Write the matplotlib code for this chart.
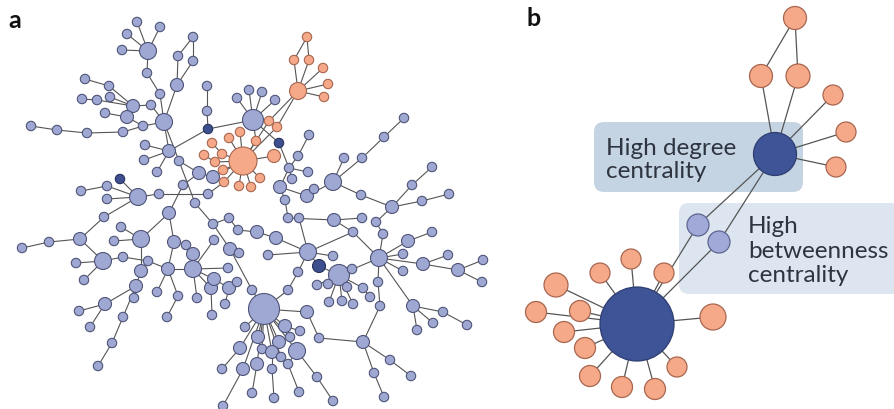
import matplotlib
matplotlib.use("Agg")
import matplotlib.pyplot as plt
from matplotlib.patches import Circle, FancyBboxPatch
from matplotlib.collections import LineCollection

plt.rcParams['font.family'] = ['Lato', 'DejaVu Sans']

# ---- panel a: node layout (x, y in pixels), size class, group ----
# b = blue, o = orange, d = dark blue
top_left = [
    ("t1", 148, 52, "l", "b"), ("t2", 137, 23, "s", "b"), ("t3", 160, 28, "s", "b"),
    ("t4", 127, 35, "s", "b"), ("t5", 122, 51, "s", "b"), ("t6", 147, 74, "s", "b"),
    ("t7", 160, 95, "s", "b"), ("t8", 164, 123, "l", "b"),
    ("q1", 193, 38, "s", "b"), ("q2", 178, 57, "s", "b"), ("q3", 193, 62, "s", "b"),
    ("q4", 177, 86, "m", "b"),
    ("c1", 85, 80, "s", "b"), ("c2", 109, 87, "s", "b"), ("c3", 82, 100, "s", "b"),
    ("c4", 97, 101, "s", "b"), ("c5", 110, 98, "s", "b"), ("c6", 133, 107, "m", "b"),
    ("c7", 151, 106, "s", "b"), ("c8", 105, 114, "s", "b"), ("c9", 127, 118, "m", "b"),
    ("c10", 143, 127, "s", "b"),
    ("w1", 31, 127, "s", "b"), ("w2", 57, 131, "s", "b"), ("w3", 87, 134, "s", "b"),
    ("w4", 123, 133, "s", "b"),
    ("v1", 207, 87, "s", "b"), ("v2", 207, 112, "s", "b"), ("v3", 208, 130, "s", "d"),
]
mid_left = [
    ("m1", 145, 146, "s", "b"), ("m2", 169, 152, "m", "b"), ("m3", 144, 161, "s", "b"),
    ("m4", 179, 162, "s", "b"), ("m5", 157, 173, "s", "b"), ("m6", 199, 174, "m", "b"),
    ("m7", 213, 178, "m", "b"), ("m8", 183, 186, "s", "b"), ("d2", 120, 180, "s", "d"),
    ("n1", 81, 192, "s", "b"), ("n2", 107, 187, "s", "b"), ("n3", 138, 198, "l", "b"),
    ("n4", 159, 195, "s", "b"), ("n5", 208, 195, "s", "b"), ("n6", 107, 200, "s", "b"),
]
low_left = [
    ("p1", 195, 204, "s", "b"), ("p2", 213, 225, "s", "b"), ("p3", 229, 219, "s", "b"),
    ("p4", 238, 231, "s", "b"), ("p5", 257, 233, "m", "b"), ("p6", 104, 218, "s", "b"),
    ("p7", 169, 214, "m", "b"), ("p8", 80, 240, "m", "b"), ("p9", 49, 243, "s", "b"),
    ("p10", 22, 249, "s", "b"), ("p11", 121, 228, "s", "b"), ("p12", 114, 242, "s", "b"),
    ("p13", 141, 240, "l", "b"), ("p14", 174, 243, "m", "b"), ("p15", 186, 246, "s", "b"),
    ("p16", 214, 241, "s", "b"), ("p17", 230, 250, "m", "b"), ("p18", 239, 254, "s", "b"),
    ("p19", 76, 264, "s", "b"), ("p20", 103, 262, "l", "b"), ("p21", 123, 258, "s", "b"),
    ("p22", 148, 262, "s", "b"), ("p23", 141, 272, "m", "b"), ("p24", 168, 270, "m", "b"),
    ("p25", 193, 255, "m", "b"), ("p26", 193, 270, "l", "b"), ("p27", 228, 269, "s", "b"),
    ("p28", 84, 281, "s", "b"), ("p29", 136, 287, "m", "b"), ("p30", 134, 299, "s", "b"),
    ("p31", 157, 293, "s", "b"), ("p32", 178, 297, "s", "b"), ("p33", 197, 299, "s", "b"),
    ("p34", 211, 289, "m", "b"), ("p35", 214, 280, "m", "b"), ("p36", 229, 289, "m", "b"),
    ("p37", 237, 283, "s", "b"), ("p38", 225, 305, "s", "b"), ("p39", 212, 316, "s", "b"),
    ("p40", 252, 291, "s", "b"), ("p41", 79, 312, "s", "b"), ("p42", 105, 305, "m", "b"),
    ("p43", 90, 328, "s", "b"), ("p44", 123, 318, "s", "b"), ("p45", 167, 318, "s", "b"),
    ("p46", 112, 344, "s", "b"), ("p47", 98, 367, "s", "b"),
]
right_mid = [
    ("h1", 253, 121, "xl", "b"), ("h2", 249, 91, "s", "b"), ("h3", 262, 93, "s", "b"),
    ("h4", 275, 101, "s", "b"), ("h5", 237, 99, "s", "b"), ("d3", 279, 144, "s", "d"),
    ("r1", 309, 136, "s", "b"), ("r2", 298, 157, "s", "b"), ("r3", 289, 169, "s", "b"),
    ("r4", 308, 173, "s", "b"), ("r5", 292, 180, "s", "b"), ("r6", 280, 188, "m", "b"),
    ("r7", 307, 197, "m", "b"), ("r8", 314, 190, "s", "b"), ("r9", 333, 183, "l", "b"),
    ("r10", 344, 159, "s", "b"), ("r11", 362, 159, "s", "b"), ("r12", 384, 138, "s", "b"),
    ("r13", 404, 119, "s", "b"), ("r14", 361, 196, "s", "b"), ("r15", 392, 208, "m", "b"),
    ("r16", 422, 202, "s", "b"), ("r17", 449, 195, "s", "b"), ("r18", 412, 186, "s", "b"),
    ("r19", 432, 168, "s", "b"), ("r20", 285, 201, "s", "b"),
]
center = [
    ("k1", 288, 219, "s", "b"), ("k2", 299, 219, "s", "b"), ("k3", 276, 239, "m", "b"),
    ("k4", 268, 256, "s", "b"), ("b3", 308, 253, "l", "b"), ("k5", 333, 257, "s", "b"),
    ("k6", 334, 221, "m", "b"), ("k7", 362, 219, "s", "b"), ("k8", 376, 223, "s", "b"),
    ("k9", 383, 235, "s", "b"), ("k10", 353, 233, "s", "b"), ("d4", 319, 267, "m", "d"),
    ("b4", 339, 276, "xl", "b"), ("k11", 352, 270, "s", "b"), ("k12", 298, 273, "s", "b"),
    ("k13", 288, 291, "s", "b"), ("k14", 317, 286, "s", "b"), ("k15", 328, 285, "s", "b"),
    ("k16", 347, 288, "s", "b"), ("k17", 363, 289, "s", "b"), ("k18", 370, 298, "s", "b"),
    ("k19", 329, 303, "s", "b"), ("k20", 342, 302, "s", "b"), ("k21", 353, 305, "s", "b"),
]
right = [
    ("g1", 379, 259, "l", "b"), ("g2", 408, 242, "m", "b"), ("g3", 432, 233, "s", "b"),
    ("g4", 403, 255, "s", "b"), ("g5", 423, 265, "m", "b"), ("g6", 448, 256, "s", "b"),
    ("g7", 458, 271, "m", "b"), ("g8", 483, 261, "s", "b"), ("g9", 482, 283, "s", "b"),
    ("g10", 403, 272, "s", "b"), ("g11", 378, 283, "s", "b"), ("g12", 380, 307, "s", "b"),
    ("g13", 363, 343, "m", "b"), ("g14", 390, 361, "s", "b"), ("g15", 411, 377, "s", "b"),
    ("g16", 374, 374, "s", "b"), ("g17", 384, 398, "s", "b"), ("g18", 319, 339, "s", "b"),
    ("g19", 413, 307, "m", "b"), ("g20", 443, 313, "s", "b"), ("g21", 467, 326, "s", "b"),
    ("g22", 433, 324, "s", "b"), ("g23", 417, 331, "s", "b"),
]
bottom = [
    ("B5", 264, 310, "hub", "b"), ("z1", 307, 313, "m", "b"), ("z2", 245, 328, "s", "b"),
    ("z3", 258, 338, "m", "b"), ("z4", 285, 327, "m", "b"), ("z5", 300, 332, "s", "b"),
    ("z6", 290, 338, "s", "b"), ("z7", 279, 343, "m", "b"), ("z8", 262, 350, "s", "b"),
    ("z9", 272, 353, "m", "b"), ("z10", 281, 358, "s", "b"), ("z11", 297, 352, "l", "b"),
    ("z12", 240, 349, "m", "b"), ("z13", 257, 365, "m", "b"), ("z14", 272, 370, "s", "b"),
    ("z15", 288, 365, "s", "b"), ("z16", 243, 370, "m", "b"), ("z17", 222, 370, "s", "b"),
    ("z18", 252, 394, "s", "b"), ("z19", 274, 399, "s", "b"), ("z20", 299, 393, "s", "b"),
    ("z21", 317, 378, "s", "b"), ("z22", 333, 402, "s", "b"), ("z23", 223, 407, "s", "b"),
]
orange = [
    ("O2", 243, 162, "big", "o"), ("o1", 269, 122, "s", "o"), ("o2", 277, 128, "s", "o"),
    ("o3", 240, 133, "s", "o"), ("o4", 229, 139, "s", "o"), ("o5", 256, 142, "s", "o"),
    ("o6", 212, 144, "s", "o"), ("o7", 204, 156, "s", "o"), ("o8", 222, 155, "s", "o"),
    ("o9", 215, 163, "s", "o"), ("o10", 274, 157, "m", "o"), ("o11", 223, 171, "s", "o"),
    ("o12", 260, 179, "s", "o"), ("o13", 224, 183, "s", "o"), ("o14", 239, 187, "s", "o"),
    ("o15", 251, 188, "s", "o"), ("O1", 298, 92, "l", "o"), ("o16", 323, 69, "s", "o"),
    ("o17", 328, 85, "s", "o"), ("o18", 324, 98, "s", "o"), ("o19", 294, 61, "s", "o"),
    ("o20", 309, 61, "s", "o"), ("o21", 307, 38, "s", "o"),
]

edges_a = """
t1-t2 t1-t3 t1-t4 t1-t5 t1-t6 t6-t7 t7-t8 q1-q2 q1-q3 q2-q4 q3-q4 q4-t8
c1-c2 c2-c6 c3-c4 c4-c6 c5-c6 c6-c7 c6-c9 c8-c9 c9-c10 c10-t8 c7-t8
w1-w2 w2-w3 w3-w4 w4-c10 v1-v2 v2-v3 v3-h1 v3-m2
t8-m2 t8-m4 m1-m2 m3-m2 m5-m2 m4-m6 m6-m7 m6-m8 m4-p1 d2-n3 n1-n2 n2-n3
n6-n3 n3-n4 n4-n5 n5-o13 m7-O2 n3-p6 m8-p7
p6-p8 p8-p9 p9-p10 p8-p20 p20-p19 p20-p28 p20-p21 p21-p22 p22-p24 p7-p13
p13-p11 p13-p12 p13-p23 p14-p24 p14-p7 p15-p25 p25-p26 p23-p29 p29-p30
p29-p42 p42-p41 p42-p43 p29-p44 p44-p46 p46-p47 p24-p31 p24-p32 p32-p45
p24-p26 p26-p33 p26-p34 p26-p35 p26-p16 p26-p27 p35-p36 p36-p37 p36-p38
p34-p39 p1-p2 p2-p3 p3-p4 p4-p5 p2-p17 p17-p18 p17-p40 p40-B5
h1-h2 h1-h3 h1-h4 h1-h5 h1-d3 d3-r3 r1-r2 r2-r3 r3-r4 r3-r5 r3-r6 r6-r7
r7-r8 r7-r9 r9-r10 r9-r11 r11-r12 r12-r13 r9-r14 r14-r15 r15-r16 r16-r17
r15-r18 r18-r19 r20-k1 r6-r20
k1-k6 k6-k7 k6-k10 k2-b3 k3-p5 k3-b3 k4-b3 b3-k5 b3-d4 b3-k12 k12-k13
k13-B5 k10-b3 k10-g1 d4-b4 b4-k11 b4-k14 b4-k15 b4-k16 b4-k17 b4-k19
b4-k20 b4-k21 k17-k18 b4-g1 r15-k8 k8-k9 k9-g1
g1-g2 g2-g3 g1-g4 g1-g5 g5-g6 g5-g7 g7-g8 g7-g9 g1-g10 g1-g11 g11-g12
g12-g13 g13-g14 g14-g15 g13-g16 g16-g17 g13-g18 g1-g19 g19-g20 g20-g21
g19-g22 g19-g23
B5-z1 B5-z2 B5-z3 B5-z4 B5-z6 B5-z7 B5-z8 B5-z9 B5-z10 B5-z11 B5-z12
B5-z13 B5-z16 z4-z5 z11-z21 z21-z22 z11-z15 z15-z20 z9-z14 z14-z19
z13-z18 z12-z17 z16-z23 z1-g18
O1-o1 o1-O2 O1-o2 o2-O2 O2-o3 O2-o4 O2-o5 O2-o8 O2-o9 O2-o10 O2-o11
O2-o12 O2-o13 O2-o14 O2-o15 o6-o8 o7-o9 h1-o5 O1-o16 O1-o17 O1-o18
O1-o19 O1-o20 o19-o21 o20-o21
"""

# ---- panel b ----
b_names = ["T", "A", "B", "C", "D", "E", "H", "L1", "L2", "G",
           "g1", "g2", "g3", "g4", "g5", "g6", "g7", "g8", "g9", "g10", "g11", "g12", "g13"]
b_x = [795, 761, 798, 833, 846, 836, 775, 698, 719, 637,
       631, 600, 556, 664, 536, 580, 564, 585, 713, 590, 622, 655, 677]
b_y = [19, 77, 77, 96, 133, 168, 155, 226, 243, 325,
       260, 274, 286, 274, 313, 312, 333, 349, 318, 377, 388, 390, 368]
b_r = [11.5, 11.5, 12, 10, 10, 10, 21.5, 11, 11, 37,
       10, 10, 12, 10, 10.5, 10.5, 10.5, 10.5, 13, 10.5, 10.5, 10.5, 10]
b_group = ["o", "o", "o", "o", "o", "o", "D", "l", "l", "D",
           "o", "o", "o", "o", "o", "o", "o", "o", "o", "o", "o", "o", "o"]
edges_b = [("T", "A"), ("T", "B"), ("A", "H"), ("B", "H"), ("C", "H"), ("D", "H"), ("E", "H"),
           ("H", "L1"), ("L1", "G"), ("H", "L2"), ("L2", "G")] + \
          [("G", "g%d" % i) for i in range(1, 14)]

RADIUS = {"s": 4.7, "m": 6.5, "l": 8.5, "xl": 10.5, "hub": 15.5, "big": 14}
FILL = {"b": "#9fa7d3", "o": "#f5a989", "d": "#3d4f8e", "D": "#3e5497", "l": "#a0a9d8"}
RING = {"b": "#4f5578", "o": "#a8664f", "d": "#27335e", "D": "#2d3d70", "l": "#5d6590"}

fig = plt.figure(figsize=(8.94, 4.10), dpi=100)
ax = fig.add_axes([0, 0, 1, 1])
ax.set_xlim(0, 894)
ax.set_ylim(410, 0)
ax.axis("off")

# panel a
pos = {}
nodes = top_left + mid_left + low_left + right_mid + center + right + bottom + orange
for key, x, y, size, grp in nodes:
    pos[key] = (x, y)
segs = []
for e in edges_a.split():
    a, b = e.split("-")
    segs.append([pos[a], pos[b]])
ax.add_collection(LineCollection(segs, colors="#555555", linewidths=0.8, zorder=1))
for key, x, y, size, grp in nodes:
    ax.add_patch(Circle((x, y), RADIUS[size], facecolor=FILL[grp],
                        edgecolor=RING[grp], linewidth=0.8, zorder=2))

# panel b: shaded label boxes
ax.add_patch(FancyBboxPatch((598, 127), 201, 62, boxstyle="round,pad=4,rounding_size=10",
                            facecolor="#c5d4e3", edgecolor="none", zorder=0.5))
ax.add_patch(FancyBboxPatch((683, 208), 215, 83, boxstyle="round,pad=4,rounding_size=10",
                            facecolor="#dde6f0", edgecolor="none", zorder=0.4))
ax.text(606, 160, "High degree\ncentrality", fontsize=17.5, color="#2e3440",
        va="center", ha="left", linespacing=1.1, zorder=3)
ax.text(748, 251, "High\nbetweenness\ncentrality", fontsize=17.5, color="#2e3440",
        va="center", ha="left", linespacing=1.22, zorder=3)

bpos = dict(zip(b_names, zip(b_x, b_y)))
bsegs = [[bpos[a], bpos[b]] for a, b in edges_b]
ax.add_collection(LineCollection(bsegs, colors="#555555", linewidths=0.9, zorder=1))
for x, y, r, grp in zip(b_x, b_y, b_r, b_group):
    ax.add_patch(Circle((x, y), r, facecolor=FILL[grp], edgecolor=RING[grp],
                        linewidth=0.9, zorder=2))

ax.text(8, 20, "a", fontsize=18, fontweight="bold", color="#111111", va="center")
ax.text(527, 18, "b", fontsize=18, fontweight="bold", color="#111111", va="center")

fig.savefig("out.png", dpi=100)
